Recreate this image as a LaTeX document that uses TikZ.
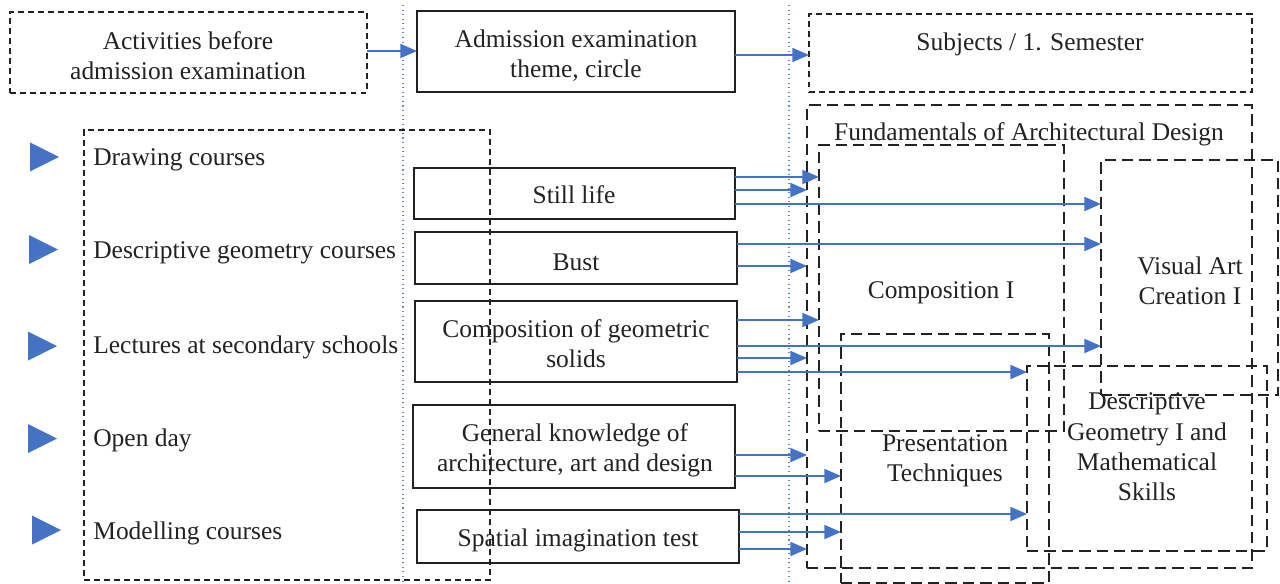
\documentclass[tikz,border=0pt]{standalone}
\usepackage{fontspec}
\setmainfont{Liberation Serif}
\usetikzlibrary{arrows.meta}
\definecolor{arrblue}{RGB}{68,114,196}
\definecolor{ink}{RGB}{34,34,34}
% box from (x1,y1) to (x2,y2) in pixel units
\newcommand\mybox[7]{\node[#6, minimum width={(#4-#2)*0.02cm}, minimum height={(#5-#3)*0.02cm}] (#1) at ({(#2+#4)/2},{(#3+#5)/2}) {#7};}
\newcommand\mytri[3]{\fill[arrblue] (#1,#3-14.5) -- (#2,#3) -- (#1,#3+14.5) -- cycle;}
\begin{document}
\begin{tikzpicture}[x=0.02cm,y=-0.02cm,
  every node/.style={font=\fontsize{14.5}{17.2}\selectfont, text=ink, align=center},
  solidbox/.style={draw=ink, line width=1.1pt, inner sep=0pt, outer sep=0pt},
  sdash/.style={draw=ink, line width=0.85pt, dash pattern=on 3.4pt off 2.3pt, inner sep=0pt, outer sep=0pt},
  ldash/.style={draw=ink, line width=1.1pt, dash pattern=on 6.5pt off 3.4pt, inner sep=0pt, outer sep=0pt},
  arr/.style={draw=arrblue, line width=1pt, -{Triangle[length=9.5pt,width=8pt]}},
  guide/.style={draw=arrblue!85, line width=0.6pt, dotted},
  lbl/.style={anchor=west, inner sep=0pt}
]
\useasboundingbox (0,0) rectangle (1280,584);

% dotted guide lines
\draw[guide] (403,5) -- (403,584);
\draw[guide] (789,5) -- (789,584);

% top row
\mybox{act}{10}{12}{367}{93}{sdash}{}
\node (actt) at (188,56) {Activities before\\admission examination};
\mybox{adm}{417}{11}{735}{92}{solidbox}{}
\node (admt) at (576,56) {Admission examination\\theme, circle};
\mybox{subj}{809}{14}{1252}{92}{sdash}{}
\node (subjt) at (1030,44) {Subjects / 1. Semester};

% left column
\mybox{left}{84}{130}{490}{580}{sdash}{}
\mytri{30}{59}{157}
\mytri{29}{58}{249.5}
\mytri{28}{57}{346}
\mytri{28}{57}{438.5}
\mytri{32}{61}{530}
\node[lbl] (l1) at (93,160) {Drawing courses};
\node[lbl] (l2) at (93,253) {Descriptive geometry courses};
\node[lbl] (l3) at (93,347) {Lectures at secondary schools};
\node[lbl] (l4) at (93,440) {Open day};
\node[lbl] (l5) at (93,533) {Modelling courses};

% exam parts
\mybox{still}{414}{168}{735}{219}{solidbox}{}
\node (stillt) at (574,195) {Still life};
\mybox{bust}{415}{232}{737}{284}{solidbox}{}
\node (bustt) at (576,262) {Bust};
\mybox{cgs}{415}{301}{737}{382}{solidbox}{}
\node (cgst) at (576,344) {Composition of geometric\\solids};
\mybox{gen}{413}{405}{735}{488}{solidbox}{}
\node (gent) at (575,450) {General knowledge of\\architecture, art and design};
\mybox{spat}{417}{510}{739}{563}{solidbox}{}
\node (spatt) at (578,540) {Spatial imagination test};

% subjects
\mybox{fund}{807}{105}{1252}{568}{ldash}{}
\node (fundt) at (1029,134) {Fundamentals of Architectural Design};
\mybox{comp}{819}{145}{1064}{431}{ldash}{}
\node (compt) at (941,293) {Composition I};
\mybox{vis}{1101}{160}{1278}{395}{ldash}{}
\node (vist) at (1190,281) {Visual Art\\Creation I};
\mybox{pres}{841}{334}{1049}{583}{ldash}{}
\node (prest) at (945,461) {Presentation\\Techniques};
\mybox{dg}{1027}{366}{1267}{551}{ldash}{}
\node (dgt) at (1147,447) {Descriptive\\Geometry I and\\Mathematical\\Skills};

% arrows
\draw[arr] (act.east |- 0,51) -- (adm.west |- 0,51);
\draw[arr] (adm.east |- 0,55) -- (subj.west |- 0,55);

\draw[arr] (still.east |- 0,177) -- (comp.west |- 0,177);
\draw[arr] (still.east |- 0,190) -- (fund.west |- 0,190);
\draw[arr] (still.east |- 0,204) -- (vis.west |- 0,204);

\draw[arr] (bust.east |- 0,244) -- (vis.west |- 0,244);
\draw[arr] (bust.east |- 0,266) -- (fund.west |- 0,266);

\draw[arr] (cgs.east |- 0,320) -- (comp.west |- 0,320);
\draw[arr] (cgs.east |- 0,346) -- (vis.west |- 0,346);
\draw[arr] (cgs.east |- 0,358) -- (fund.west |- 0,358);
\draw[arr] (cgs.east |- 0,372) -- (dg.west |- 0,372);

\draw[arr] (gen.east |- 0,455) -- (fund.west |- 0,455);
\draw[arr] (gen.east |- 0,476) -- (pres.west |- 0,476);

\draw[arr] (spat.east |- 0,514) -- (dg.west |- 0,514);
\draw[arr] (spat.east |- 0,532) -- (pres.west |- 0,532);
\draw[arr] (spat.east |- 0,549) -- (fund.west |- 0,549);
\end{tikzpicture}
\end{document}
